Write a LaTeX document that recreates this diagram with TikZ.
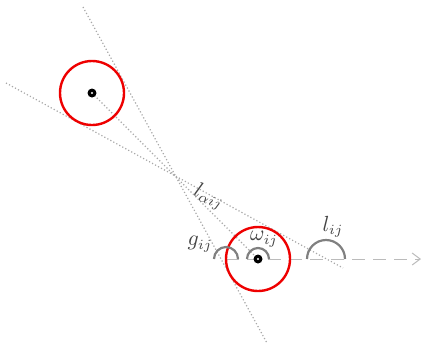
\documentclass[tikz,border=0pt]{standalone}
\usepackage{tikz}
\usetikzlibrary{arrows.meta,calc}
\definecolor{Disk}{HTML}{EE0000}
\definecolor{Guide}{HTML}{A8A8A8}
\definecolor{Axis}{HTML}{BBBBBB}
\definecolor{Arc}{HTML}{808080}
\definecolor{Label}{HTML}{444444}
\tikzset{
  disk/.style={draw=Disk,line width=1.2pt},
  guide line/.style={draw=Guide,line width=.6pt,dash pattern=on .6pt off 1.1pt},
  axis arrow/.style={draw=Axis,line width=.5pt,dash pattern=on 6.5pt off 4pt,
    -{Straight Barb[length=4pt,width=6pt]}},
  angle arc/.style={draw=Arc,line width=1.1pt},
  angle label/.style={text=Label,font=\fontsize{10.5}{12}\selectfont,inner sep=1pt}
}
\begin{document}
\begin{tikzpicture}[x=.5pt,y=-.5pt]
  \useasboundingbox (0,0) rectangle (422,345);
  % centres and guide ends
  \coordinate (ci) at (92,93);
  \coordinate (cj) at (258,259);
  \coordinate (ta) at (83,7);
  \coordinate (tb) at (267,343);
  \coordinate (tc) at (6,83);
  \coordinate (td) at (343,268);
  \coordinate (gj) at (226,259);
  \coordinate (lj) at (326,259);
  \coordinate (xend) at (421,259);
  % guides
  \draw[guide line] (ta) -- (tb);
  \draw[guide line] (tc) -- (td);
  \draw[guide line] (ci) -- (cj);
  \draw[axis arrow] (gj) -- (xend);
  % disks
  \draw[disk] (ci) circle (32);
  \draw[disk] (cj) circle (32);
  \fill (ci) circle (4.5); \fill[white] (ci) circle (1.2);
  \fill (cj) circle (4.5); \fill[white] (cj) circle (1.2);
  % angles
  \draw[angle arc] ($(gj)+(12,0)$) arc (0:-180:12);
  \draw[angle arc] ($(cj)+(11,0)$) arc (0:-180:11);
  \draw[angle arc] ($(lj)+(19,0)$) arc (0:-180:19);
  \node[angle label] (glab) at (200,244) {$g_{ij}$};
  \node[angle label] (wlab) at (264,239) {$\omega_{ij}$};
  \node[angle label] (llab) at (333,227) {$l_{ij}$};
  \node[angle label,rotate=-22] (alab) at (209,197) {$l_{\alpha ij}$};
\end{tikzpicture}
\end{document}
